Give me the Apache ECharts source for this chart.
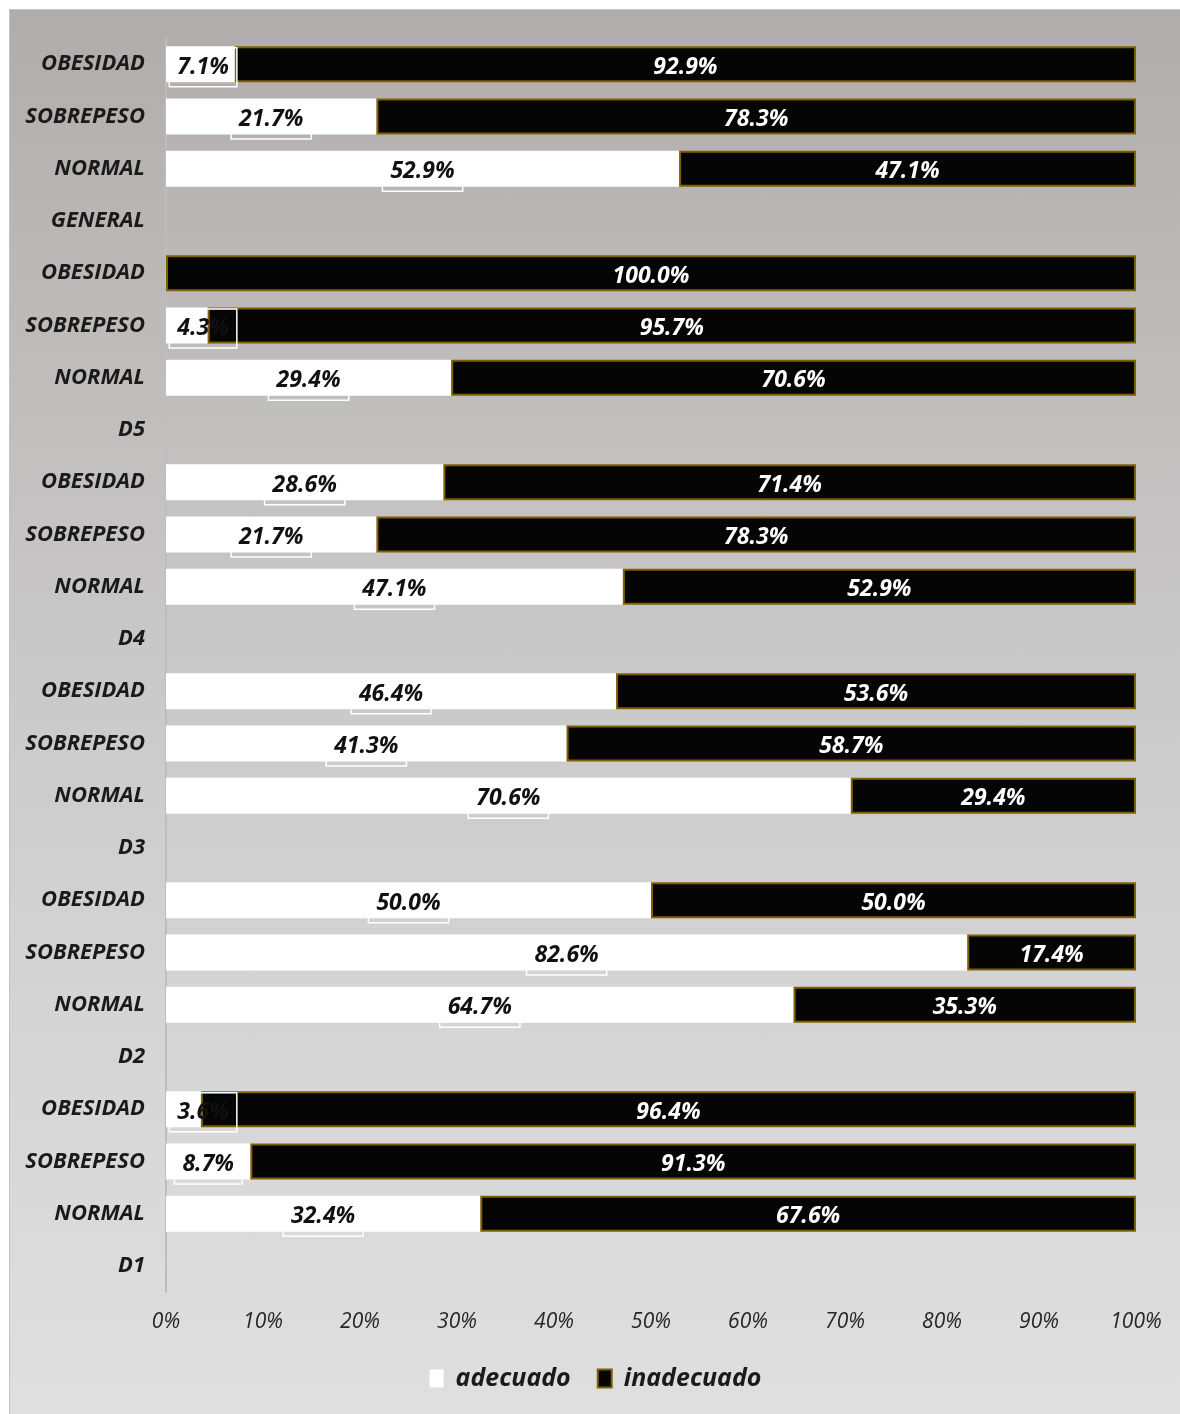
<!DOCTYPE html>
<html>
<head>
<meta charset="utf-8">
<script src="https://cdn.jsdelivr.net/npm/echarts@6/dist/echarts.min.js"></script>
<style>
  html, body { margin: 0; padding: 0; background: #fff; }
  #chart {
    position: absolute; left: 9px; top: 9px; width: 1171px; height: 1405px;
    border-left: 1px solid #c4c4c4; border-top: 1px solid #c4c4c4;
    background: linear-gradient(to bottom, #b0acab 0%, #bcb9b8 20%, #c9c8c8 45%, #d4d4d4 70%, #dfdfdf 100%);
  }
</style>
</head>
<body>
<div id="chart"></div>
<script>
// filas de arriba hacia abajo
var categorias = ['OBESIDAD', 'SOBREPESO', 'NORMAL', 'GENERAL',
                  'OBESIDAD', 'SOBREPESO', 'NORMAL', 'D5',
                  'OBESIDAD', 'SOBREPESO', 'NORMAL', 'D4',
                  'OBESIDAD', 'SOBREPESO', 'NORMAL', 'D3',
                  'OBESIDAD', 'SOBREPESO', 'NORMAL', 'D2',
                  'OBESIDAD', 'SOBREPESO', 'NORMAL', 'D1'];
var adecuado = [7.1, 21.7, 52.9, null,
                0, 4.3, 29.4, null,
                28.6, 21.7, 47.1, null,
                46.4, 41.3, 70.6, null,
                50.0, 82.6, 64.7, null,
                3.6, 8.7, 32.4, null];
var inadecuado = [92.9, 78.3, 47.1, null,
                  100.0, 95.7, 70.6, null,
                  71.4, 78.3, 52.9, null,
                  53.6, 58.7, 29.4, null,
                  50.0, 17.4, 35.3, null,
                  96.4, 91.3, 67.6, null];

var plotW = 968;   // ancho del area de trazado en px
var txtFont = 'Open Sans';

var adecuadoData = adecuado.map(function (v) {
    if (v === null) return '-';
    var c = v / 100 * plotW / 2;
    var dx = c < 37 ? 37 - c : 0;
    return { value: v, label: { show: v > 0, offset: [dx, 3] } };
});

var myChart = echarts.init(document.getElementById('chart'));

myChart.setOption({
    animation: false,
    grid: {
        left: 156,
        right: 45,
        top: 28,
        bottom: 123
    },
    legend: {
        data: ['adecuado', 'inadecuado'],
        bottom: 19,
        left: 'center',
        icon: 'rect',
        itemWidth: 14,
        itemHeight: 18,
        itemGap: 26,
        textStyle: {
            fontFamily: txtFont,
            fontSize: 25,
            fontWeight: 'bold',
            fontStyle: 'italic',
            color: '#1a1a1a',
            padding: [0, 0, 0, 7]
        }
    },
    xAxis: {
        type: 'value',
        min: 0,
        max: 100,
        interval: 10,
        axisLine: { show: false },
        axisTick: { show: false },
        splitLine: { show: false },
        axisLabel: {
            formatter: '{value}%',
            margin: 20,
            fontFamily: txtFont,
            fontSize: 21,
            fontStyle: 'italic',
            color: '#262626'
        }
    },
    yAxis: {
        type: 'category',
        inverse: true,
        data: categorias,
        axisLine: { show: true, lineStyle: { color: '#bdbdbd', width: 2 } },
        axisTick: { show: false },
        axisLabel: {
            margin: 21,
            fontFamily: txtFont,
            fontSize: 22,
            fontWeight: 'bold',
            fontStyle: 'italic',
            color: '#1a1a1a'
        }
    },
    series: [
        {
            name: 'adecuado',
            type: 'bar',
            stack: 'total',
            barWidth: 36,
            itemStyle: { color: '#ffffff' },
            label: {
                show: true,
                position: 'inside',
                formatter: function (p) { return p.value.toFixed(1) + '%'; },
                fontFamily: txtFont,
                fontSize: 23,
                fontWeight: 'bold',
                fontStyle: 'italic',
                color: '#111',
                borderColor: '#ffffff',
                borderWidth: 1.5,
                padding: [9, 8, 7, 8]
            },
            data: adecuadoData
        },
        {
            name: 'inadecuado',
            type: 'bar',
            stack: 'total',
            barWidth: 36,
            itemStyle: { color: '#050505', borderColor: '#7f6000', borderWidth: 2 },
            label: {
                show: true,
                position: 'inside',
                offset: [0, 3],
                formatter: function (p) { return p.value.toFixed(1) + '%'; },
                fontFamily: txtFont,
                fontSize: 23,
                fontWeight: 'bold',
                fontStyle: 'italic',
                color: '#ffffff'
            },
            data: inadecuado.map(function (v) { return v === null ? '-' : v; })
        }
    ]
});
</script>
</body>
</html>
